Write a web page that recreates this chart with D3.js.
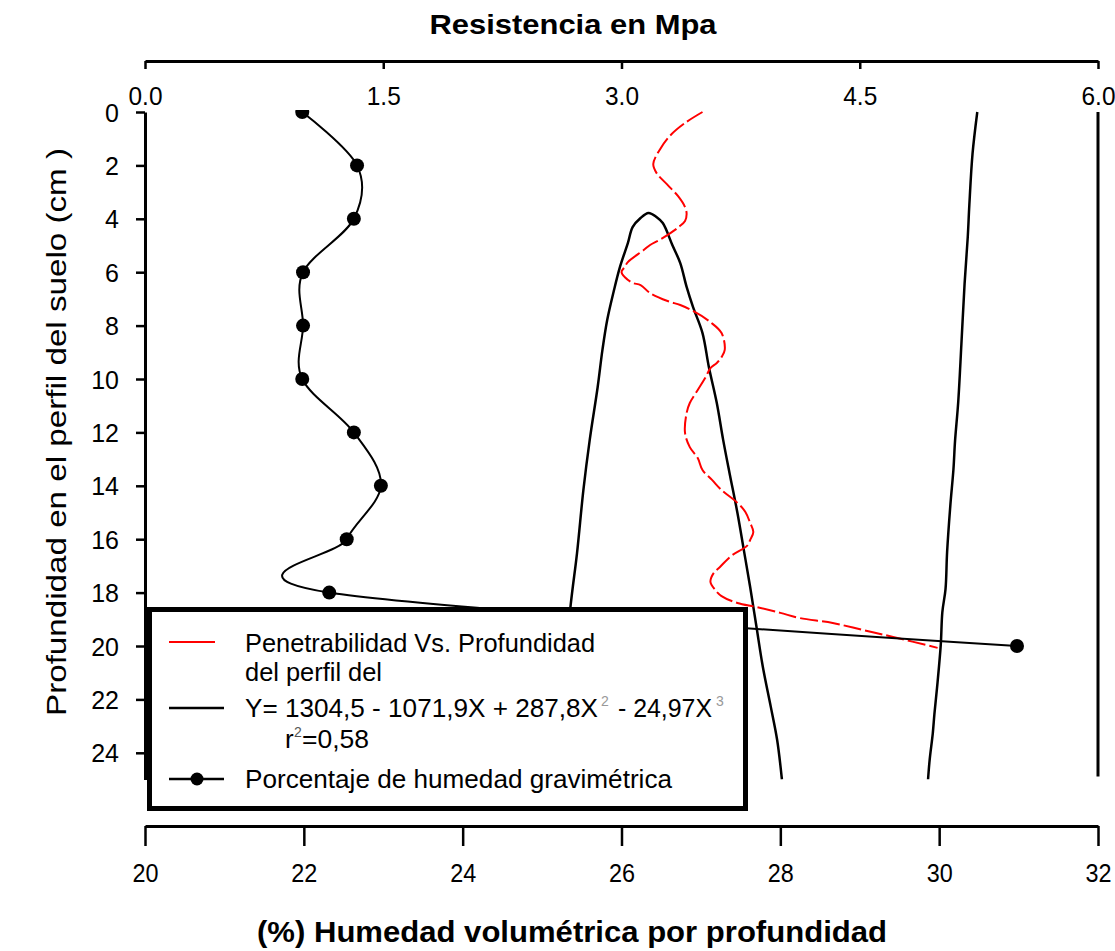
<!DOCTYPE html>
<html><head><meta charset="utf-8">
<script src="https://cdn.jsdelivr.net/npm/d3@7"></script>
<style>
body{margin:0;background:#fff}
svg{display:block}
text{font-family:"Liberation Sans",Arial,sans-serif;fill:#000}
</style>
</head><body>
<svg id="c" width="1115" height="951"></svg>
<script>
// ---- data ----
const depthTicks = [0,2,4,6,8,10,12,14,16,18,20,22,24];
const moistureTicks = [20,22,24,26,28,30,32];
const mpaTicks = [0,1.5,3,4.5,6];

// gravimetric moisture (%) vs depth (cm)
const moistureDepth = [0,2,4,6,8,10,12,14,16,18,20];
const moistureValue = [21.98,22.67,22.63,21.99,21.99,21.98,22.63,22.97,22.54,22.32,30.98];

// penetrability (MPa) vs depth (cm)
const penetrationMpa = [3.51,3.40,3.31,3.24,3.20,3.22,3.29,3.36,3.40,3.41,3.40,3.36,3.31,3.24,3.18,3.14,3.04,3.02,3.00,3.02,3.07,3.12,3.18,3.29,3.37,3.45,3.56,3.63,3.65,3.63,3.60,3.56,3.53,3.48,3.43,3.41,3.40,3.43,3.48,3.51,3.57,3.63,3.73,3.78,3.81,3.83,3.81,3.79,3.69,3.62,3.58,3.56,3.59,3.63,3.73,3.85,4.00,4.12,4.33,4.52,4.71,4.99];
const penetrationDepth = [0,0.41,0.86,1.42,1.95,2.28,2.73,3.18,3.56,3.82,4.08,4.31,4.53,4.79,4.98,5.17,5.62,5.81,5.99,6.18,6.40,6.48,6.78,7.08,7.23,7.45,7.87,8.28,8.91,9.18,9.40,9.59,9.93,10.41,10.90,11.27,12.02,12.55,12.96,13.41,13.78,14.16,14.64,14.98,15.39,15.73,16.03,16.25,16.63,17.04,17.27,17.60,17.90,18.13,18.39,18.54,18.76,18.95,19.14,19.40,19.66,20.07];

// fitted cubic curve (two visible pieces)
const fitArchMpa = [2.57,2.68,2.72,2.76,2.80,2.85,2.88,2.91,2.95,2.99,3.04,3.07,3.12,3.17,3.22,3.26,3.32,3.37,3.41,3.45,3.51,3.55,3.60,3.64,3.68,3.73,3.77,3.81,3.85,3.89,3.94,3.98,4.01];
const fitArchDepth = [25,18.46,16.52,14.16,12.28,10.30,8.91,7.79,6.74,5.81,4.91,4.31,3.97,3.78,3.93,4.16,4.98,5.66,6.55,7.30,8.28,9.55,10.90,12.28,13.52,15.02,16.40,17.79,19.29,20.79,22.28,23.52,25];
const fitBranchMpa = [5.24,5.21,5.19,5.18,5.16,5.14,5.12,5.10,5.09,5.07,5.05,5.04,5.02,5.01,4.99,4.97,4.96,4.94,4.93];
const fitBranchDepth = [0,1.57,3.48,4.68,6.44,8.69,10.86,12.32,13.37,14.76,16.48,17.87,18.73,19.96,21.35,22.55,23.26,24.27,25];

// ---- chart ----
const svg = d3.select("#c");
const xTop = d3.scaleLinear().domain([0,6]).range([145,1098]);
const xBot = d3.scaleLinear().domain([20,32]).range([145,1098]);
const y = d3.scaleLinear().domain([0,25]).range([112,779.5]);
const FONT = '"Liberation Sans",Arial,sans-serif';

// titles
svg.append("text").attr("x",573).attr("y",34).attr("text-anchor","middle")
  .attr("font-size",28).attr("font-weight","bold").attr("textLength",287)
  .attr("lengthAdjust","spacingAndGlyphs")
  .text("Resistencia en Mpa");
svg.append("text").attr("x",572).attr("y",942).attr("text-anchor","middle")
  .attr("font-size",29).attr("font-weight","bold").attr("textLength",630)
  .attr("lengthAdjust","spacingAndGlyphs")
  .text("(%) Humedad volumétrica por profundidad");
svg.append("text").attr("transform","translate(66,432) rotate(-90)").attr("text-anchor","middle")
  .attr("font-size",28).attr("textLength",568).attr("lengthAdjust","spacingAndGlyphs")
  .text("Profundidad en el perfil del suelo (cm )");

// top axis
const gTop = svg.append("g").attr("transform","translate(0,61)")
  .call(d3.axisBottom(xTop).tickValues(mpaTicks).tickFormat(d3.format(".1f")).tickSize(8).tickSizeOuter(0));
gTop.attr("font-family",FONT).attr("font-size",25);
gTop.select(".domain").attr("stroke-width",3);
gTop.selectAll(".tick line").attr("stroke-width",2.5);
gTop.selectAll(".tick text").attr("y",44).attr("dy",0).attr("fill","#000")
  .attr("textLength",34).attr("lengthAdjust","spacingAndGlyphs");

// bottom axis
const gBot = svg.append("g").attr("transform","translate(0,826)")
  .call(d3.axisBottom(xBot).tickValues(moistureTicks).tickSize(20).tickSizeOuter(0));
gBot.attr("font-family",FONT).attr("font-size",26);
gBot.select(".domain").attr("stroke-width",3);
gBot.selectAll(".tick line").attr("stroke-width",2.5);
gBot.selectAll(".tick text").attr("y",56).attr("dy",0).attr("fill","#000")
  .attr("textLength",26).attr("lengthAdjust","spacingAndGlyphs");

// left axis
const gLeft = svg.append("g").attr("transform","translate(145,0)")
  .call(d3.axisLeft(y).tickValues(depthTicks).tickSize(9).tickSizeOuter(0));
gLeft.attr("font-family",FONT).attr("font-size",25);
gLeft.select(".domain").attr("stroke-width",3);
gLeft.selectAll(".tick line").attr("stroke-width",2.5);
gLeft.selectAll(".tick text").attr("x",-26).attr("dy","0.36em").attr("fill","#000");

// right frame line
svg.append("line").attr("x1",xTop(6)).attr("x2",xTop(6)).attr("y1",y(0)).attr("y2",y(25)-3)
  .attr("stroke","#000").attr("stroke-width",3);

// clip
svg.append("clipPath").attr("id","plot").append("rect")
  .attr("x",146).attr("y",y(0)-2).attr("width",xTop(6)-146).attr("height",y(25)-y(0)+2);
const plot = svg.append("g").attr("clip-path","url(#plot)");

// fitted curve
const lineMpa = d3.line().x(d=>xTop(d[0])).y(d=>y(d[1])).curve(d3.curveCatmullRom);
plot.append("path").datum(d3.zip(fitArchMpa,fitArchDepth)).attr("d",lineMpa)
  .attr("fill","none").attr("stroke","#000").attr("stroke-width",2.5);
plot.append("path").datum(d3.zip(fitBranchMpa,fitBranchDepth)).attr("d",lineMpa)
  .attr("fill","none").attr("stroke","#000").attr("stroke-width",2.5);

// penetrability
plot.append("path").datum(d3.zip(penetrationMpa,penetrationDepth)).attr("d",lineMpa)
  .attr("fill","none").attr("stroke","#ff0000").attr("stroke-width",2)
  .attr("stroke-dasharray","18,4");

// moisture
const lineMoist = d3.line().x(d=>xBot(d[0])).y(d=>y(d[1])).curve(d3.curveCardinal.tension(0));
const moist = d3.zip(moistureValue,moistureDepth);
plot.append("path").datum(moist).attr("d",lineMoist)
  .attr("fill","none").attr("stroke","#000").attr("stroke-width",2);
plot.selectAll("circle.m").data(moist).join("circle").attr("class","m")
  .attr("cx",d=>xBot(d[0])).attr("cy",d=>y(d[1])).attr("r",7).attr("fill","#000");

// legend
const lg = svg.append("g");
lg.append("rect").attr("x",149.5).attr("y",609.5).attr("width",596).attr("height",199)
  .attr("fill","#fff").attr("stroke","#000").attr("stroke-width",5);
lg.append("line").attr("x1",169).attr("x2",215).attr("y1",642).attr("y2",642)
  .attr("stroke","#ff0000").attr("stroke-width",2);
lg.append("text").attr("x",245).attr("y",652).attr("font-size",26).attr("textLength",350)
  .attr("lengthAdjust","spacingAndGlyphs").text("Penetrabilidad Vs. Profundidad");
lg.append("text").attr("x",245).attr("y",681).attr("font-size",26).attr("textLength",137)
  .attr("lengthAdjust","spacingAndGlyphs").text("del perfil del");
lg.append("line").attr("x1",169).attr("x2",224).attr("y1",708).attr("y2",708)
  .attr("stroke","#000").attr("stroke-width",2.5);
lg.append("text").attr("x",245).attr("y",717).attr("font-size",26).attr("textLength",353)
  .attr("lengthAdjust","spacingAndGlyphs").text("Y= 1304,5 - 1071,9X + 287,8X");
lg.append("text").attr("x",601).attr("y",706).attr("font-size",14).style("fill","#999").text("2");
lg.append("text").attr("x",618).attr("y",717).attr("font-size",26).attr("textLength",94)
  .attr("lengthAdjust","spacingAndGlyphs").text("- 24,97X");
lg.append("text").attr("x",716).attr("y",706).attr("font-size",14).style("fill","#999").text("3");
lg.append("text").attr("x",285).attr("y",748).attr("font-size",26).text("r");
lg.append("text").attr("x",294).attr("y",737).attr("font-size",14).style("fill","#555").text("2");
lg.append("text").attr("x",302).attr("y",748).attr("font-size",26).attr("textLength",67)
  .attr("lengthAdjust","spacingAndGlyphs").text("=0,58");
lg.append("line").attr("x1",169).attr("x2",224).attr("y1",779).attr("y2",779)
  .attr("stroke","#000").attr("stroke-width",2.5);
lg.append("circle").attr("cx",197).attr("cy",779).attr("r",6.5).attr("fill","#000");
lg.append("text").attr("x",245).attr("y",788).attr("font-size",26).attr("textLength",427)
  .attr("lengthAdjust","spacingAndGlyphs").text("Porcentaje de humedad gravimétrica");
</script>
</body></html>
